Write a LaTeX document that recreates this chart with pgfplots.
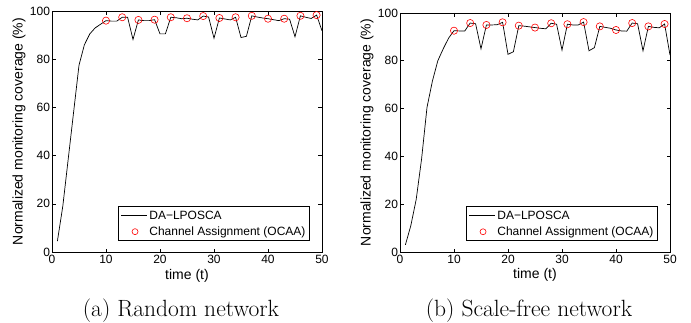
\documentclass[border=0pt]{standalone}
\usepackage{fontspec}
\usepackage{pgfplots}
\pgfplotsset{compat=1.18}
\newfontfamily\hv{Liberation Sans}
\newcommand\axfont{\hv\fontsize{12}{14}\selectfont}
\newcommand\labfont{\hv\fontsize{14}{16}\selectfont}
\newcommand\capfont{\fontsize{23.5}{26}\selectfont}

\pgfplotstableread{
t y
1 4.5
2 19
3 38.5
4 58
5 77.5
6 86
7 90.5
8 93
9 94.5
10 96.0
11 95.8
12 95.8
13 97.4
14 97.4
15 88.2
16 96.3
17 96.0
18 96.0
19 96.4
20 90.5
21 90.5
22 97.4
23 97.2
24 96.8
25 97.0
26 96.6
27 96.3
28 97.9
29 97.5
30 88.7
31 97.1
32 96.7
33 96.3
34 97.4
35 89.0
36 89.5
37 98.0
38 97.5
39 97.1
40 96.8
41 96.4
42 96.0
43 96.8
44 96.6
45 89.3
46 98.0
47 97.4
48 96.9
49 98.3
50 91.8
}\randline

\pgfplotstableread{
t y
10 96.0
13 97.4
16 96.3
19 96.4
22 97.4
25 97.0
28 97.9
31 97.1
34 97.4
37 98.0
40 96.8
43 96.8
46 98.0
49 98.3
}\randmark

\pgfplotstableread{
t y
1 3.0
2 11
3 22
4 39
5 60.5
6 71.5
7 80
8 85
9 89.5
10 92.6
11 92.5
12 92.5
13 95.8
14 95.5
15 85.0
16 95.0
17 95.0
18 95.1
19 96.1
20 82.7
21 83.8
22 94.7
23 94.5
24 94.2
25 93.9
26 93.6
27 93.4
28 95.7
29 95.3
30 84.5
31 95.3
32 95.0
33 95.0
34 96.2
35 84.2
36 85.5
37 94.4
38 94.0
39 93.6
40 92.9
41 92.5
42 92.4
43 95.8
44 95.5
45 84.2
46 94.4
47 94.0
48 93.8
49 95.4
50 82.4
}\sfline

\pgfplotstableread{
t y
10 92.6
13 95.8
16 95.0
19 96.1
22 94.7
25 93.9
28 95.7
31 95.3
34 96.2
37 94.4
40 92.9
43 95.8
46 94.4
49 95.4
}\sfmark

\pgfplotsset{
  myaxis/.style={
    scale only axis,
    width=270pt,
    xmin=0, xmax=50, ymin=0, ymax=100,
    xtick={0,10,...,50}, ytick={0,20,...,100},
    tick align=inside,
    xtick pos=both, ytick pos=both,
    xticklabel pos=bottom, yticklabel pos=left,
    major tick length=3.5pt,
    axis line style={line width=0.8pt},
    every tick/.style={black, line width=0.6pt},
    /pgf/number format/assume math mode=true,
    tick label style={font=\axfont},
    label style={font=\labfont},
    xlabel={time (t)},
    ylabel={Normalized monitoring coverage (\%)},
    xlabel style={at={(axis description cs:0.5,-0.0975)}, anchor=center},
    ylabel style={at={(axis description cs:-0.122,0.5)}, anchor=center, rotate=0},
    yticklabel style={xshift=1.5pt},
    legend style={font=\axfont, at={(0.955,0.045)}, anchor=south east,
      draw=black, line width=0.8pt, inner xsep=2pt, inner ysep=2pt,
      row sep=2pt, cells={anchor=west}},
    legend cell align=left,
  },
  lineplot/.style={black, line width=0.7pt, no markers,
    legend image code/.code={\draw[black, line width=0.7pt] (0pt,0pt) -- (26pt,0pt);}},
  markplot/.style={red, only marks, mark=o, mark size=3.6pt, mark options={line width=0.6pt},
    legend image code/.code={\path[draw=none] (0pt,0pt) -- (26pt,0pt);\draw[red, line width=0.6pt] plot[mark=o, mark size=3pt] coordinates {(14pt,0pt)};}},
}

\begin{document}
\begin{tikzpicture}[x=1pt,y=1pt]
\path (0,0) rectangle (691,322);
\begin{axis}[myaxis, height=241pt, at={(52pt,70pt)}, anchor=south west]
\addplot[lineplot] table[x=t,y=y] {\randline};
\addlegendentry{DA−LPOSCA}
\addplot[markplot] table[x=t,y=y] {\randmark};
\addlegendentry{Channel Assignment (OCAA)}
\end{axis}
\begin{axis}[myaxis, height=239pt, at={(400pt,70pt)}, anchor=south west]
\addplot[lineplot] table[x=t,y=y] {\sfline};
\addlegendentry{DA−LPOSCA}
\addplot[markplot] table[x=t,y=y] {\sfmark};
\addlegendentry{Channel Assignment (OCAA)}
\end{axis}
\node[anchor=base, inner sep=0pt] at (181,6) {\capfont (a) Random network};
\node[anchor=base, inner sep=0pt] at (529,6) {\capfont (b) Scale-free network};
\end{tikzpicture}
\end{document}
